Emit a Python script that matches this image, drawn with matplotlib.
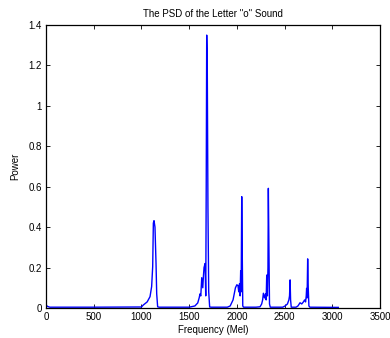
import matplotlib
matplotlib.use('Agg')
import matplotlib.pyplot as plt

# PSD of the letter "o"
freq_mel = [0, 15, 40, 500, 1000, 1020, 1060, 1090, 1107, 1118, 1125, 1132, 1142, 1153, 1160, 1170, 1185,
            1500, 1560, 1590, 1605, 1614, 1622, 1632, 1643, 1650, 1656, 1667, 1674, 1679, 1684, 1690, 1697,
            1705, 1715, 1730,
            1900, 1930, 1960, 1985, 2000, 2012, 2020, 2028, 2034, 2040, 2045, 2051, 2056, 2062, 2070,
            2200, 2243, 2260, 2270, 2278, 2290, 2300, 2307, 2313, 2320, 2326, 2330, 2336, 2342, 2350,
            2480, 2505, 2530, 2545, 2552, 2558, 2563, 2570,
            2620, 2640, 2662, 2680, 2697, 2710, 2720, 2727, 2731, 2736, 2742, 2748, 2755, 2765, 3063]
power = [0.015, 0.008, 0.004, 0.004, 0.005, 0.015, 0.03, 0.056, 0.106, 0.205, 0.42, 0.432, 0.40, 0.22, 0.07, 0.006, 0.004,
         0.004, 0.01, 0.025, 0.05, 0.07, 0.06, 0.15, 0.1, 0.16, 0.2, 0.22, 0.06, 0.6, 1.35, 1.2, 0.5,
         0.08, 0.005, 0.004,
         0.004, 0.01, 0.04, 0.10, 0.115, 0.11, 0.08, 0.12, 0.06, 0.185, 0.08, 0.551, 0.3, 0.01, 0.004,
         0.004, 0.006, 0.02, 0.04, 0.073, 0.05, 0.07, 0.04, 0.163, 0.06, 0.2, 0.592, 0.3, 0.02, 0.004,
         0.004, 0.01, 0.02, 0.04, 0.06, 0.139, 0.04, 0.004,
         0.004, 0.01, 0.026, 0.02, 0.03, 0.04, 0.03, 0.06, 0.097, 0.05, 0.243, 0.1, 0.01, 0.004, 0.003]

x_ticks = [0, 500, 1000, 1500, 2000, 2500, 3000, 3500]
y_ticks = [0, 0.2, 0.4, 0.6, 0.8, 1, 1.2, 1.4]
y_tick_labels = ['0', '0.2', '0.4', '0.6', '0.8', '1', '1.2', '1.4']

plt.rcParams['font.family'] = ['Liberation Sans', 'DejaVu Sans']
plt.rcParams['font.size'] = 7

fig = plt.figure(figsize=(3.9, 3.38), dpi=100)
ax = fig.add_axes([46 / 390, 30 / 338, 334 / 390, 283 / 338])

ax.plot(freq_mel, power, color=(0, 0, 1), linewidth=1.0)

ax.set_xlim(0, 3500)
ax.set_ylim(0, 1.4)
ax.set_xticks(x_ticks)
ax.set_xticklabels([str(t) for t in x_ticks])
ax.set_yticks(y_ticks)
ax.set_yticklabels(y_tick_labels)
ax.tick_params(direction='in', top=True, right=True, length=3, width=0.6, pad=3, labelsize=7)
for s in ax.spines.values():
    s.set_linewidth(0.9)

ax.set_title('The PSD of the Letter "o" Sound', fontsize=7, pad=6)
ax.set_xlabel('Frequency (Mel)', fontsize=7, labelpad=2)
ax.set_ylabel('Power', fontsize=7, labelpad=6)

fig.savefig('out.png', dpi=100)
